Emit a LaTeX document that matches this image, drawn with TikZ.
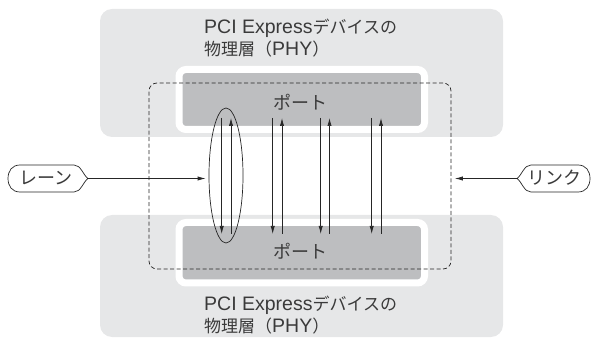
\documentclass[tikz,border=0pt]{standalone}
\usepackage{fontspec}
\newfontfamily\jp{Noto Sans CJK JP}
\newfontfamily\lat{Liberation Sans}
\usetikzlibrary{arrows.meta,shapes.geometric}
\definecolor{lightg}{HTML}{E6E7E8}
\definecolor{darkg}{HTML}{BDBEC0}
\definecolor{txt}{HTML}{3A3A3A}
\definecolor{ln}{HTML}{262626}
\newcommand{\latf}{\lat\fontsize{19.5}{19.5}\selectfont}
\newcommand{\jpf}{\jp\fontsize{17}{17}\selectfont}
\begin{document}
\begin{tikzpicture}[x=1pt,y=-1pt,
  devbox/.style={fill=lightg,rounded corners=12pt},
  portbox/.style={draw=white,line width=7pt,fill=darkg,rounded corners=7pt,inner sep=0pt},
  heading/.style={text=txt,inner sep=0pt,anchor=base west},
  porttext/.style={font=\jp\fontsize{18}{18}\selectfont,text=txt,inner sep=0pt},
  tagtext/.style={font=\jp\fontsize{18}{18}\selectfont,text=txt,inner sep=0pt},
  tagline/.style={draw=ln,line width=0.7pt},
  arr/.style={draw=ln,line width=0.7pt,-{Latex[length=8pt,width=4.2pt]}},
  linkbox/.style={draw=ln,line width=0.7pt,dash pattern=on 4pt off 2.5pt,rounded corners=8pt}
]
\useasboundingbox (0,0) rectangle (592,339);
% device boxes
\fill[devbox] (100,9) rectangle (503,137);
\fill[devbox] (100,215) rectangle (503,337);
% ports
\node[portbox,minimum width=245.5pt,minimum height=60pt] (p1) at (301.75,99.5) {};
\node[portbox,minimum width=245.5pt,minimum height=60.5pt] (p2) at (301.75,252.75) {};
\node[porttext] (p1t) at (300,102.5) {ポート};
\node[porttext] (p2t) at (300,251) {ポート};
% headings
\node[heading] (h1a) at (204,34) {{\latf PCI Express}{\jpf デバイスの}};
\node[heading] (h1b) at (204,55.5) {{\jpf 物理層（}{\latf PHY}{\jpf ）}};
\node[heading] (h2a) at (204,311) {{\latf PCI Express}{\jpf デバイスの}};
\node[heading] (h2b) at (204,332) {{\jpf 物理層（}{\latf PHY}{\jpf ）}};
% link (dashed)
\node[linkbox,minimum width=302pt,minimum height=186pt,inner sep=0pt] (lnk) at (300,176) {};
% lanes
\foreach \i/\d/\u in {1/221.7/231,2/272.7/282,3/320.7/329.5,4/371.7/381}{
  \coordinate (dt\i) at (\d,118);
  \coordinate (db\i) at (\d,234);
  \coordinate (ut\i) at (\u,118);
  \coordinate (ub\i) at (\u,234);
  \draw[arr] (dt\i) -- (db\i);
  \draw[arr] (ub\i) -- (ut\i);
}
\node[draw=ln,line width=0.7pt,ellipse,minimum width=34pt,minimum height=135pt,inner sep=0pt] (ell) at (226,175.5) {};
% lane tag
\node[tagtext] (lane) at (46,178) {レーン};
\coordinate (lanetip) at (88,178.5);
\draw[tagline] (20,165) -- (74,165) .. controls (81,165) and (83,175) .. (lanetip)
  .. controls (83,182) and (81,192) .. (74,192) -- (20,192)
  .. controls (12,192) and (8,186) .. (8,178.5) .. controls (8,171) and (12,165) .. (20,165) -- cycle;
\draw[arr,shorten >=3pt] (lanetip) -- (ell.west |- lanetip);
% link tag
\node[tagtext] (link) at (554,178) {リンク};
\coordinate (linktip) at (517,178.5);
\draw[tagline] (578,165) -- (531,165) .. controls (524,165) and (522,175) .. (linktip)
  .. controls (522,182) and (524,192) .. (531,192) -- (578,192)
  .. controls (586,192) and (590,186) .. (590,178.5) .. controls (590,171) and (586,165) .. (578,165) -- cycle;
\draw[arr,shorten >=3.5pt] (linktip) -- (lnk.east |- linktip);
\end{tikzpicture}
\end{document}
